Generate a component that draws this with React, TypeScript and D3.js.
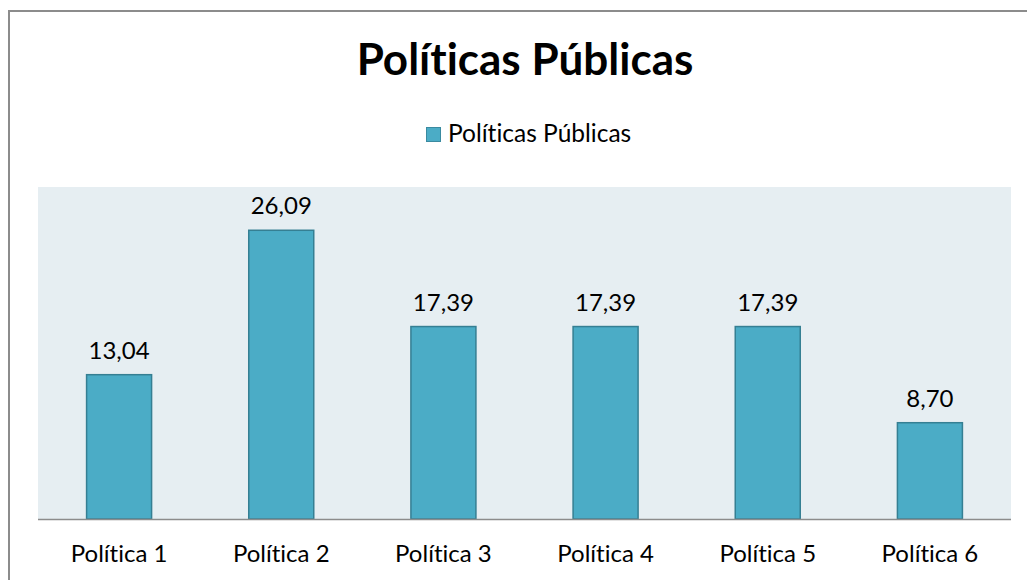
import React from "react";
import * as d3 from "d3";

const categories = ["Política 1", "Política 2", "Política 3", "Política 4", "Política 5", "Política 6"];
const values = [13.04, 26.09, 17.39, 17.39, 17.39, 8.7];
const seriesName = "Políticas Públicas";
const title = "Políticas Públicas";

const W = 1027;
const H = 580;
const FONT = "Lato, 'Noto Sans', sans-serif";

export default function App() {
  const plot = { left: 38, right: 1011, top: 187, bottom: 519 };
  const x = d3.scaleBand<string>().domain(categories).range([plot.left, plot.right]).paddingInner(0.593).paddingOuter(0.2965);
  const y = d3.scaleLinear().domain([0, 30]).range([plot.bottom, plot.top]);
  const fmt = (v: number) => v.toFixed(2).replace(".", ",");
  return (
    <svg width={W} height={H} style={{ position: "absolute", left: 0, top: 0, fontVariantLigatures: "none" }} fontFamily={FONT}>
      <rect x={0} y={0} width={W} height={H} fill="#fff" />
      <rect x={9} y={11} width={W + 20} height={H + 20} fill="#fff" stroke="#8c8c8c" strokeWidth={2} />
      <text x={525} y={75} textAnchor="middle" fontSize={44} fontWeight="bold" fill="#000">{title}</text>
      <rect x={426.5} y={127.5} width={14} height={14} fill="#4BACC6" stroke="#3a8aa0" strokeWidth={1} />
      <text x={448} y={142} fontSize={24.5} fill="#000">{seriesName}</text>
      <rect x={plot.left} y={plot.top} width={plot.right - plot.left} height={plot.bottom - plot.top} fill="#E6EEF2" />
      {categories.map((c, i) => (
        <g key={c}>
          <rect x={x(c)! + 0.5} y={y(values[i])} width={x.bandwidth() - 1} height={plot.bottom - y(values[i])} fill="#4BACC6" stroke="#357F93" strokeWidth={1.5} />
          <text x={x(c)! + x.bandwidth() / 2} y={y(values[i]) - 16} textAnchor="middle" fontSize={24} fill="#000">{fmt(values[i])}</text>
          <text x={x(c)! + x.bandwidth() / 2} y={562} textAnchor="middle" fontSize={24} fill="#000">{c}</text>
        </g>
      ))}
      <line x1={plot.left} x2={plot.right} y1={plot.bottom + 0.5} y2={plot.bottom + 0.5} stroke="#8c8c8c" strokeWidth={1.5} />
    </svg>
  );
}
